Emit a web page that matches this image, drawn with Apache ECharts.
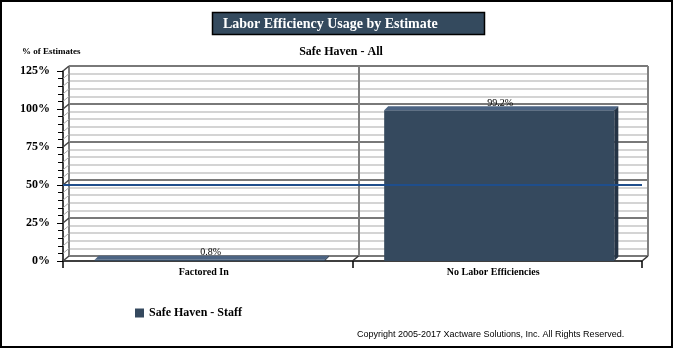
<!DOCTYPE html>
<html><head><meta charset="utf-8">
<script src="https://cdn.jsdelivr.net/npm/echarts@6/dist/echarts.min.js"></script>
<style>html,body{margin:0;padding:0;background:#fff}#c{width:674px;height:350px}</style>
</head><body><div id="c"></div>
<script>
const categories = ['Factored In', 'No Labor Efficiencies'];
const seriesName = 'Safe Haven - Staff';
const values = [0.8, 99.2];
const valueLabels = ['0.8%', '99.2%'];
const yTickValues = [0, 25, 50, 75, 100, 125];
const referenceLine = 50;

const SERIF = '"Liberation Serif", "Times New Roman", serif';
const yMin = yTickValues[0], yMax = yTickValues[yTickValues.length - 1];
const yStep = yTickValues[1] - yTickValues[0];
const minorSplit = 5;
const DX = 6, DY = -5;

const chart = echarts.init(document.getElementById('c'), null, {renderer: 'canvas'});

function renderBar(params, api) {
  const idx = api.value(0), v = api.value(1);
  const b = api.coord([idx, 0]);
  const t = api.coord([idx, v]);
  const cw = api.size([1, 0])[0];
  const w = cw * 0.795;
  const cx = b[0] + 2;
  const x0 = cx - w / 2, x1 = cx + w / 2;
  const yb = b[1], yt = t[1];
  const d = 4;
  return {type: 'group', children: [
    {type: 'rect', shape: {x: x0, y: yt, width: w, height: yb - yt}, style: {fill: '#35495e'}},
    {type: 'polygon', shape: {points: [[x0, yt], [x0 + d, yt - d], [x1 + d, yt - d], [x1, yt]]}, style: {fill: '#4c6483'}},
    {type: 'polygon', shape: {points: [[x1, yt], [x1 + d, yt - d], [x1 + d, yb - d], [x1, yb]]}, style: {fill: '#243345'}},
    {type: 'text', style: {text: valueLabels[params.dataIndex], x: b[0] + 3, y: yt - d + 2, align: 'center', verticalAlign: 'bottom', font: '10px ' + SERIF, fill: '#000'}}
  ]};
}

function renderFrame(params, api) {
  const cs = params.coordSys;
  const ch = [];
  const mstep = yStep / minorSplit;
  for (let k = 0; k <= (yMax - yMin) / mstep; k++) {
    const v = yMin + k * mstep;
    const y = api.coord([0, v])[1];
    const major = k % minorSplit === 0;
    ch.push({type: 'line', shape: {x1: cs.x, y1: y, x2: cs.x + DX, y2: y + DY},
      style: {stroke: major ? '#444' : '#aaa', lineWidth: major ? 1.5 : 1}});
  }
  const yb = cs.y + cs.height;
  [cs.x + cs.width / 2, cs.x + cs.width].forEach(x => {
    ch.push({type: 'line', shape: {x1: x, y1: yb, x2: x + DX, y2: yb + DY}, style: {stroke: '#333', lineWidth: 1.5}});
  });
  return {type: 'group', children: ch};
}

const yAxisBase = {type: 'value', min: yMin, max: yMax, interval: yStep};

const option = {
  animation: false,
  grid: [
    {left: 63, top: 71, width: 579, height: 190},
    {left: 69, top: 66, width: 579, height: 190}
  ],
  xAxis: [
    {type: 'category', gridIndex: 0, data: categories,
      axisLine: {lineStyle: {color: '#000', width: 1.5}},
      axisTick: {show: true, length: 7, lineStyle: {color: '#000', width: 1.5}},
      axisLabel: {color: '#000', fontFamily: SERIF, fontWeight: 'bold', fontSize: 10, margin: 6, padding: [0, 8, 0, 0]},
      splitLine: {show: false}},
    {type: 'category', gridIndex: 1, data: categories,
      axisLine: {show: false}, axisTick: {show: false}, axisLabel: {show: false},
      splitLine: {show: true, lineStyle: {color: '#808080', width: 2}}}
  ],
  yAxis: [
    Object.assign({}, yAxisBase, {gridIndex: 0,
      axisLine: {show: true, lineStyle: {color: '#000', width: 1.5}},
      axisTick: {show: true, length: 6, lineStyle: {color: '#000', width: 1}},
      minorTick: {show: true, splitNumber: minorSplit, length: 5, lineStyle: {color: '#000', width: 1}},
      axisLabel: {formatter: '{value}%', color: '#000', fontFamily: SERIF, fontWeight: 'bold', fontSize: 12, margin: 13, padding: [3, 0, 0, 0]},
      splitLine: {show: false}}),
    Object.assign({}, yAxisBase, {gridIndex: 1,
      axisLine: {show: false}, axisTick: {show: false}, axisLabel: {show: false},
      minorTick: {show: false, splitNumber: minorSplit},
      splitLine: {show: true, lineStyle: {color: '#4d4d4d', width: 1.5}},
      minorSplitLine: {show: true, lineStyle: {color: '#c6c6c6', width: 1.5}}})
  ],
  legend: {
    left: 130, top: 302, icon: 'rect', itemWidth: 9, itemHeight: 9,
    data: [seriesName],
    textStyle: {color: '#000', fontFamily: SERIF, fontWeight: 'bold', fontSize: 12}
  },
  graphic: [
    {type: 'rect', shape: {x: 1, y: 1, width: 671, height: 346}, style: {fill: 'none', stroke: '#000', lineWidth: 2}, z: 10},
    {type: 'rect', shape: {x: 212.5, y: 12.5, width: 272, height: 22}, style: {fill: '#344a5e', stroke: '#000', lineWidth: 1.5}},
    {type: 'text', style: {text: 'Labor Efficiency Usage by Estimate', x: 223, y: 24, verticalAlign: 'middle', font: 'bold 14px ' + SERIF, fill: '#fff'}},
    {type: 'text', style: {text: 'Safe Haven - All', x: 341, y: 52, align: 'center', verticalAlign: 'middle', font: 'bold 12px ' + SERIF, fill: '#000'}},
    {type: 'text', style: {text: '% of Estimates', x: 22, y: 52, verticalAlign: 'middle', font: 'bold 9px ' + SERIF, fill: '#000'}},
    {type: 'text', style: {text: 'Copyright 2005-2017 Xactware Solutions, Inc. All Rights Reserved.', x: 357, y: 335, verticalAlign: 'middle', font: '9px "Liberation Sans", Arial, sans-serif', fill: '#000'}}
  ],
  series: [
    {type: 'custom', name: 'frame', xAxisIndex: 0, yAxisIndex: 0, silent: true, z: 1,
      renderItem: renderFrame, data: [[0, 0]], encode: {x: 0, y: 1}},
    {type: 'custom', name: seriesName, xAxisIndex: 0, yAxisIndex: 0, z: 2,
      itemStyle: {color: '#35495e'},
      renderItem: renderBar,
      data: categories.map((c, i) => [i, values[i]]),
      encode: {x: 0, y: 1},
      markLine: {silent: true, symbol: ['none', 'none'], label: {show: false},
        lineStyle: {color: '#1f4e8c', width: 2, type: 'solid'},
        data: [{yAxis: referenceLine}]}}
  ]
};
chart.setOption(option);
</script>
</body></html>
